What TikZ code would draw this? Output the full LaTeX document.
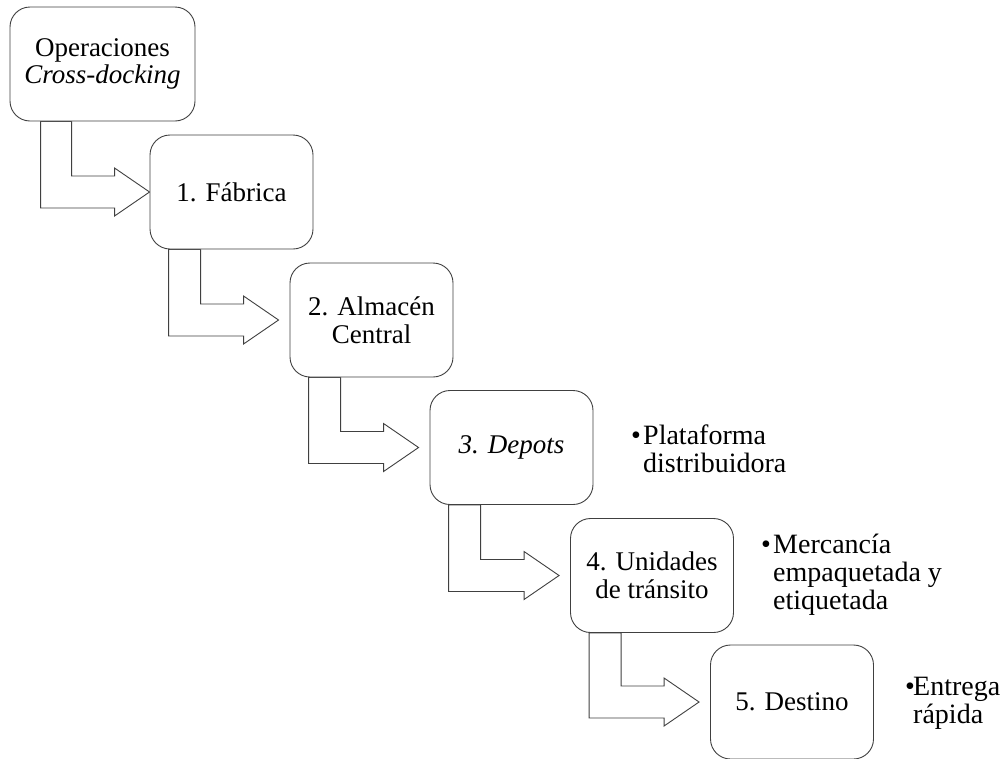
\documentclass[tikz,border=0pt]{standalone}
\usepackage{fontspec}
\setmainfont{Liberation Serif}
\usetikzlibrary{calc}
\pgfdeclarelayer{background}
\pgfsetlayers{background,main}

% Bent outline arrow from the bottom of box #1 to the left side of box #2.
% #3, #4: offsets of the two vertical edges from the source box's left side;
% #5: gap between the arrow tip and the target box.
\newcommand{\bentstep}[5]{%
  \begin{pgfonlayer}{background}
  \draw[bentarrow] let \p1=(#1.south west), \p2=(#2.west) in
    (\x1+#3,\y1) -- (\x1+#3,\y2-16pt) -- (\x2-#5-35pt,\y2-16pt)
    -- (\x2-#5-35pt,\y2-24pt) -- (\x2-#5,\y2) -- (\x2-#5-35pt,\y2+24pt)
    -- (\x2-#5-35pt,\y2+16pt) -- (\x1+#4,\y2+16pt) -- (\x1+#4,\y1) -- cycle;
  \end{pgfonlayer}}

\begin{document}
\begin{tikzpicture}[x=1pt,y=-1pt,
  stepbox/.style={draw=black!75, line width=0.9pt, fill=white,
    rounded corners=20pt, minimum width=163pt, minimum height=114pt,
    inner sep=2pt, align=center, font=\fontsize{27}{27.5}\selectfont},
  bentarrow/.style={draw=black!75, line width=0.9pt, fill=white},
  note/.style={anchor=north west, inner sep=0pt, align=left,
    font=\fontsize{28}{28}\selectfont}]
\useasboundingbox (0,0) rectangle (1008,758);

% process steps
\node[stepbox, minimum width=185pt] (s0) at (102.5,64) {Operaciones\\\textit{Cross-docking}};
\node[stepbox] (s1) at (231.5,192) {1. Fábrica};
\node[stepbox] (s2) at (371.5,320) {2. Almacén\\Central};
\node[stepbox] (s3) at (511.5,447.5) {\textit{3. Depots}};
\node[stepbox] (s4) at (652,575.5) {4. Unidades\\de tránsito};
\node[stepbox] (s5) at (792,702) {5. Destino};

% arrows between steps
\bentstep{s0}{s1}{31pt}{62pt}{0pt}
\bentstep{s1}{s2}{19pt}{51pt}{11pt}
\bentstep{s2}{s3}{19pt}{51pt}{11pt}
\bentstep{s3}{s4}{19pt}{51pt}{11pt}
\bentstep{s4}{s5}{19pt}{51pt}{11pt}

% side notes
\node[note] (n3) at (631,424) {\rule{0pt}{20pt}\makebox[12pt][l]{\textbullet}Plataforma\\\hspace*{12pt}distribuidora};
\node[note] (n4) at (761,533) {\rule{0pt}{20pt}\makebox[12pt][l]{\textbullet}Mercancía\\\hspace*{12pt}empaquetada y\\\hspace*{12pt}etiquetada};
\node[note] (n5) at (905,675) {\rule{0pt}{20pt}\makebox[8pt][l]{\textbullet}Entrega\\\hspace*{8pt}rápida};
\end{tikzpicture}
\end{document}
